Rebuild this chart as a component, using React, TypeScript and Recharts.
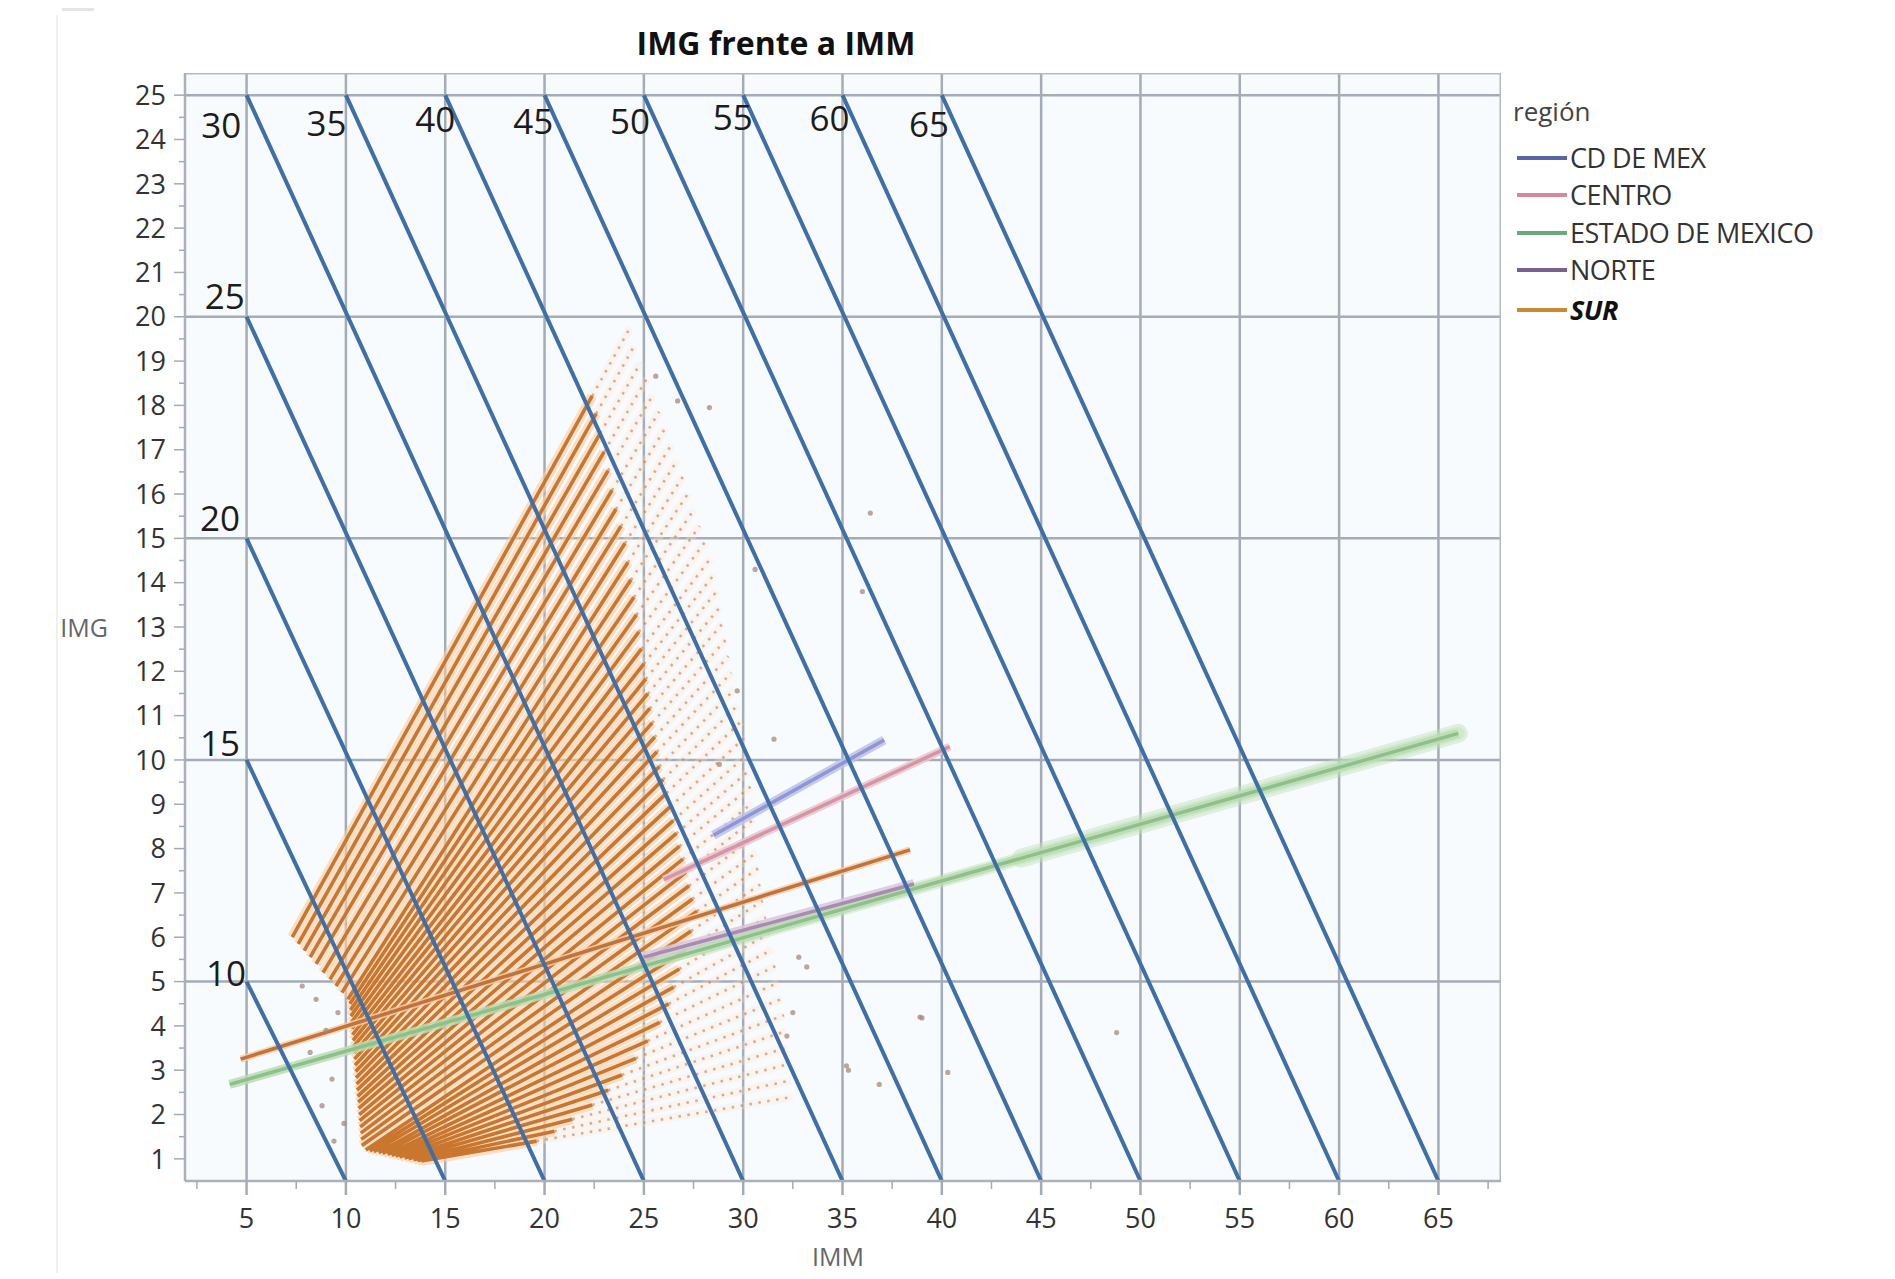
import React from 'react';
import { ComposedChart, Line, XAxis, YAxis, Scatter, CartesianGrid } from 'recharts';

const FONT = '"Open Sans", "Noto Sans", "DejaVu Sans", sans-serif';

const X_MIN = 1.9;
const X_MAX = 68.15;
const Y_MIN = 0.5;
const Y_MAX = 25.5;

// axis ticks
const xMajorTicks = [5, 10, 15, 20, 25, 30, 35, 40, 45, 50, 55, 60, 65];
const xMinorTicks = [2.5, 7.5, 12.5, 17.5, 22.5, 27.5, 32.5, 37.5, 42.5, 47.5, 52.5, 57.5, 62.5, 67.5];
const yMajorTicks = [1, 2, 3, 4, 5, 6, 7, 8, 9, 10, 11, 12, 13, 14, 15, 16, 17, 18, 19, 20, 21, 22, 23, 24, 25];
const yMinorTicks = [1.5, 2.5, 3.5, 4.5, 5.5, 6.5, 7.5, 8.5, 9.5, 10.5, 11.5, 12.5, 13.5, 14.5, 15.5, 16.5, 17.5, 18.5, 19.5, 20.5, 21.5, 22.5, 23.5, 24.5];

// reference grid
const gridX = [5, 10, 15, 20, 25, 30, 35, 40, 45, 50, 55, 60, 65];
const gridY = [5, 10, 15, 20, 25];

// iso lines IMM + IMG = level
const isoLevels = [10, 15, 20, 25, 30, 35, 40, 45, 50, 55, 60, 65];
const isoLabelX = [3.96, 3.66, 3.66, 3.9, 3.72, 9.02, 14.5, 19.43, 24.3, 29.48, 34.35, 39.35];
const isoLabelY = [5.19, 10.38, 15.44, 20.46, 24.32, 24.37, 24.45, 24.4, 24.4, 24.5, 24.48, 24.34];

// region fit lines
const fitRegions = ['CENTRO', 'CD DE MEX', 'NORTE', 'ESTADO DE MEXICO', 'SUR'];
const fitStartX = [26.0, 28.5, 25.0, 4.15, 4.7];
const fitStartY = [7.3, 8.3, 5.55, 2.68, 3.25];
const fitEndX = [40.4, 37.1, 38.6, 66.0, 38.4];
const fitEndY = [10.3, 10.45, 7.2, 10.6, 7.97];
const fitBandColor = ['#ecc3cd', '#bcc0ea', '#d8c6dc', '#b9ddb2', '#f4cda6'];
const fitBandWidth = [8, 9, 10, 9, 7];
const fitLineColor = ['#d396a6', '#8f96d2', '#a88cb0', '#8fc08b', '#c0733a'];
// widening confidence band of ESTADO DE MEXICO (start x of each wider stage)
const estadoBandFromX = [28, 44];
const estadoBandWidth = [13, 19];

// SUR connected points (fan of segments)
const fanLeftX = [7.3, 7.6, 7.9, 8.2, 8.5, 8.85, 9.2, 9.5, 9.8, 10.1, 10.2, 10.23, 10.25, 10.28, 10.3, 10.33, 10.36, 10.38, 10.41, 10.43, 10.46, 10.49, 10.51, 10.54, 10.56, 10.59, 10.62, 10.64, 10.67, 10.69, 10.72, 10.75, 10.77, 10.8, 11.0, 11.2, 11.4, 11.65, 11.85, 12.1, 12.3, 12.5, 12.7, 12.95, 13.15, 13.4, 13.6, 13.8];
const fanLeftY = [6.0, 5.85, 5.7, 5.55, 5.4, 5.2, 5.05, 4.9, 4.75, 4.6, 4.5, 4.36, 4.22, 4.08, 3.94, 3.8, 3.67, 3.53, 3.39, 3.25, 3.11, 2.97, 2.83, 2.69, 2.55, 2.41, 2.28, 2.14, 2.0, 1.86, 1.72, 1.58, 1.44, 1.3, 1.2, 1.18, 1.16, 1.14, 1.12, 1.1, 1.08, 1.06, 1.04, 1.02, 1.0, 0.98, 0.96, 0.95];
const fanRightX = [24.3, 24.5, 24.83, 25.14, 25.45, 25.77, 26.08, 26.4, 26.68, 26.96, 27.24, 27.53, 27.81, 28.08, 28.36, 28.53, 28.68, 28.82, 28.97, 29.12, 29.26, 29.41, 29.58, 29.74, 29.9, 30.07, 30.22, 30.3, 30.38, 30.46, 30.54, 30.62, 30.7, 30.78, 30.86, 30.98, 31.14, 31.3, 31.46, 31.63, 31.79, 31.95, 32.06, 32.15, 32.24, 32.32, 32.41, 32.5];
const fanRightY = [19.75, 19.33, 18.96, 18.6, 18.23, 17.86, 17.49, 17.12, 16.76, 16.39, 16.02, 15.65, 15.28, 14.92, 14.55, 14.18, 13.81, 13.44, 13.08, 12.71, 12.34, 11.97, 11.6, 11.24, 10.87, 10.5, 10.13, 9.76, 9.4, 9.03, 8.66, 8.29, 7.92, 7.56, 7.19, 6.82, 6.45, 6.08, 5.72, 5.35, 4.98, 4.61, 4.24, 3.88, 3.51, 3.14, 2.77, 2.4];
const fanSolidX = [22.4, 22.6, 22.8, 23.0, 23.2, 23.4, 23.6, 23.85, 24.05, 24.2, 24.35, 24.5, 24.63, 24.75, 24.88, 25.0, 25.1, 25.2, 25.3, 25.42, 25.55, 25.66, 25.78, 25.97, 26.14, 26.3, 26.48, 26.64, 26.8, 26.96, 27.12, 27.28, 27.45, 27.68, 27.38, 27.08, 26.79, 26.5, 26.25, 25.8, 25.2, 24.6, 23.9, 23.2, 22.4, 21.4, 20.5, 19.6];

// loose markers
const dotX = [36.4, 28.3, 30.6, 36.0, 31.55, 36.85, 35.2, 40.3, 39.0, 32.2, 32.8, 28.8, 29.7, 26.7, 25.6, 33.2, 32.5, 35.3, 38.9, 48.8, 8.5, 9.0, 8.2, 9.3, 8.8, 9.6, 7.8, 9.9, 9.4];
const dotY = [15.57, 17.95, 14.3, 13.8, 10.47, 2.68, 3.1, 2.95, 4.18, 3.77, 5.55, 9.9, 11.56, 18.1, 18.66, 5.33, 4.3, 3.0, 4.2, 3.85, 4.6, 3.9, 3.4, 2.8, 2.2, 4.3, 4.9, 1.8, 1.4];

// legend
const legendNames = ['CD DE MEX', 'CENTRO', 'ESTADO DE MEXICO', 'NORTE', 'SUR'];
const legendColors = ['#5865a5', '#d48a9c', '#6aaa7a', '#7a6290', '#c98a32'];

type P = { x: number; y: number | null };

function segs(list: number[][]): P[] {
  const out: P[] = [];
  list.forEach(([x1, y1, x2, y2]) => {
    out.push({ x: x1, y: y1 }, { x: x2, y: y2 }, { x: x2, y: null });
  });
  return out;
}

function YTick(props: any) {
  const { x, y, payload } = props;
  const v = payload.value;
  const major = Number.isInteger(v);
  return (
    <g>
      <line x1={x} x2={x - (major ? 11 : 6)} y1={y} y2={y} stroke="#a3abb5" strokeWidth={1.5} />
      {major && (
        <text x={x - 19} y={y} dy="0.36em" textAnchor="end" fontSize={27} fontFamily={FONT} fill="#333">
          {v}
        </text>
      )}
    </g>
  );
}

function XTick(props: any) {
  const { x, y, payload } = props;
  const v = payload.value;
  const major = v % 5 === 0;
  return (
    <g>
      <line x1={x} x2={x} y1={y} y2={y + (major ? 14 : 8)} stroke="#a3abb5" strokeWidth={major ? 2.5 : 1.5} />
      {major && (
        <text x={x} y={y + 37} dy="0.36em" textAnchor="middle" fontSize={27} fontFamily={FONT} fill="#333">
          {v}
        </text>
      )}
    </g>
  );
}

export default function App() {
  const gridData = segs([
    ...gridX.map((v) => [v, Y_MIN, v, Y_MAX]),
    ...gridY.map((v) => [X_MIN, v, X_MAX, v]),
  ]);
  const frameData: P[] = [
    { x: X_MIN, y: Y_MAX },
    { x: X_MAX, y: Y_MAX },
    { x: X_MAX, y: Y_MIN },
  ];
  const isoData = segs(
    isoLevels.map((c) => {
      const sx = Math.max(5, c - 25);
      return [sx, c - sx, c, Y_MIN];
    })
  );
  const isoLabelData = isoLevels.map((c, i) => ({ x: isoLabelX[i], y: isoLabelY[i], label: String(c) }));

  const fanSolidY = fanSolidX.map((sx, i) => {
    const t = (sx - fanLeftX[i]) / (fanRightX[i] - fanLeftX[i]);
    return fanLeftY[i] + t * (fanRightY[i] - fanLeftY[i]);
  });
  const fanSolid = segs(fanLeftX.map((lx, i) => [lx, fanLeftY[i], fanSolidX[i], fanSolidY[i]]));
  const fanDotted = segs(fanLeftX.map((_, i) => [fanSolidX[i], fanSolidY[i], fanRightX[i], fanRightY[i]]));

  const dotData = dotX.map((x, i) => ({ x, y: dotY[i] }));

  const ei = fitRegions.indexOf('ESTADO DE MEXICO');
  const estadoSlope = (fitEndY[ei] - fitStartY[ei]) / (fitEndX[ei] - fitStartX[ei]);
  const estadoBands = estadoBandFromX.map((fx) => [
    { x: fx, y: fitStartY[ei] + estadoSlope * (fx - fitStartX[ei]) },
    { x: fitEndX[ei], y: fitEndY[ei] },
  ]);

  const common = { dot: false, activeDot: false, isAnimationActive: false, legendType: 'none' as const, connectNulls: false };

  return (
    <div style={{ position: 'relative', width: 1880, height: 1265 }}>
      <ComposedChart width={1880} height={1265} margin={{ top: 65, right: 387, bottom: 22, left: 107 }}>
        <CartesianGrid fill="#f8fbfe" horizontal={false} vertical={false} />
        <XAxis
          type="number"
          dataKey="x"
          domain={[X_MIN, X_MAX]}
          allowDataOverflow
          ticks={[...xMinorTicks, ...xMajorTicks].sort((a, b) => a - b)}
          interval={0}
          tick={<XTick />}
          tickLine={false}
          tickSize={0}
          tickMargin={0}
          height={70}
          axisLine={{ stroke: '#aab1ba', strokeWidth: 2.5 }}
        />
        <YAxis
          type="number"
          dataKey="y"
          domain={[Y_MIN, Y_MAX]}
          allowDataOverflow
          ticks={[...yMinorTicks, ...yMajorTicks].sort((a, b) => a - b)}
          interval={0}
          tick={<YTick />}
          tickLine={false}
          tickSize={0}
          tickMargin={0}
          width={70}
          axisLine={{ stroke: '#aab1ba', strokeWidth: 2.5 }}
        />
        <Line {...common} data={gridData} dataKey="y" stroke="#a4acb7" strokeWidth={2.5} />
        <Line {...common} data={frameData} dataKey="y" stroke="#b3bac3" strokeWidth={3} />
        <Scatter
          data={dotData}
          isAnimationActive={false}
          legendType="none"
          shape={(p: any) => <circle cx={p.cx} cy={p.cy} r={2.6} fill="#a48b7c" fillOpacity={0.75} />}
        />
        <Line {...common} data={fanDotted} dataKey="y" stroke="#fbe3cc" strokeWidth={8} strokeOpacity={0.3} />
        <Line {...common} data={fanSolid} dataKey="y" stroke="#f8cfa4" strokeWidth={10} strokeOpacity={0.6} />
        <Line {...common} data={fanDotted} dataKey="y" stroke="#bf7d4e" strokeWidth={2.6} strokeDasharray="2.5 6.5" strokeOpacity={0.6} />
        <Line {...common} data={fanSolid} dataKey="y" stroke="#c9762e" strokeWidth={3.6} />
        {estadoBands.map((d, k) => (
          <Line
            key={'eb' + k}
            {...common}
            data={d}
            dataKey="y"
            stroke="#bfe0b8"
            strokeWidth={estadoBandWidth[k]}
            strokeOpacity={0.45}
            strokeLinecap="round"
          />
        ))}
        {fitRegions.map((r, i) => (
          <Line
            key={'band' + r}
            {...common}
            data={[{ x: fitStartX[i], y: fitStartY[i] }, { x: fitEndX[i], y: fitEndY[i] }]}
            dataKey="y"
            stroke={fitBandColor[i]}
            strokeWidth={fitBandWidth[i]}
            strokeOpacity={0.85}
          />
        ))}
        {fitRegions.map((r, i) => (
          <Line
            key={'fit' + r}
            {...common}
            data={[{ x: fitStartX[i], y: fitStartY[i] }, { x: fitEndX[i], y: fitEndY[i] }]}
            dataKey="y"
            stroke={fitLineColor[i]}
            strokeWidth={3.5}
          />
        ))}
        <Line {...common} data={isoData} dataKey="y" stroke="#3f6fa6" strokeWidth={4} />
        <Scatter
          data={isoLabelData}
          isAnimationActive={false}
          legendType="none"
          shape={(p: any) => (
            <text x={p.cx} y={p.cy} dy="0.36em" textAnchor="middle" fontSize={35} fontFamily={FONT} fill="#1c1c1c">
              {p.payload.label}
            </text>
          )}
        />
      </ComposedChart>
      <svg
        width={1880}
        height={1265}
        style={{ position: 'absolute', left: 0, top: 0, pointerEvents: 'none', overflow: 'visible' }}
      >
        <rect x={54} y={-8} width={32} height={11} fill="#e4e4e4" />
        <line x1={49} x2={49} y1={7} y2={1271} stroke="#efefef" strokeWidth={2} />
        <text x={768} y={35} dy="0.36em" textAnchor="middle" fontSize={32} fontWeight="bold" fontFamily={FONT} fill="#111">
          IMG frente a IMM
        </text>
        <text x={76} y={620} dy="0.36em" textAnchor="middle" fontSize={25} fontFamily={FONT} fill="#666">
          IMG
        </text>
        <text x={830} y={1249} dy="0.36em" textAnchor="middle" fontSize={25} fontFamily={FONT} fill="#666">
          IMM
        </text>
        <text x={1505} y={104} dy="0.36em" fontSize={26} fontFamily={FONT} fill="#444">
          región
        </text>
        {legendNames.map((n, i) => {
          const cy = [150, 187, 225, 262, 302][i];
          const isSur = n === 'SUR';
          return (
            <g key={n}>
              <line x1={1509} x2={1559} y1={cy} y2={cy} stroke={legendColors[i]} strokeWidth={4} />
              <text
                x={1562}
                y={cy}
                dy="0.36em"
                fontSize={27}
                fontFamily={FONT}
                fill={isSur ? '#111' : '#333'}
                fontWeight={isSur ? 'bold' : 'normal'}
                fontStyle={isSur ? 'italic' : 'normal'}
                letterSpacing={-0.5}
              >
                {n}
              </text>
            </g>
          );
        })}
      </svg>
    </div>
  );
}
